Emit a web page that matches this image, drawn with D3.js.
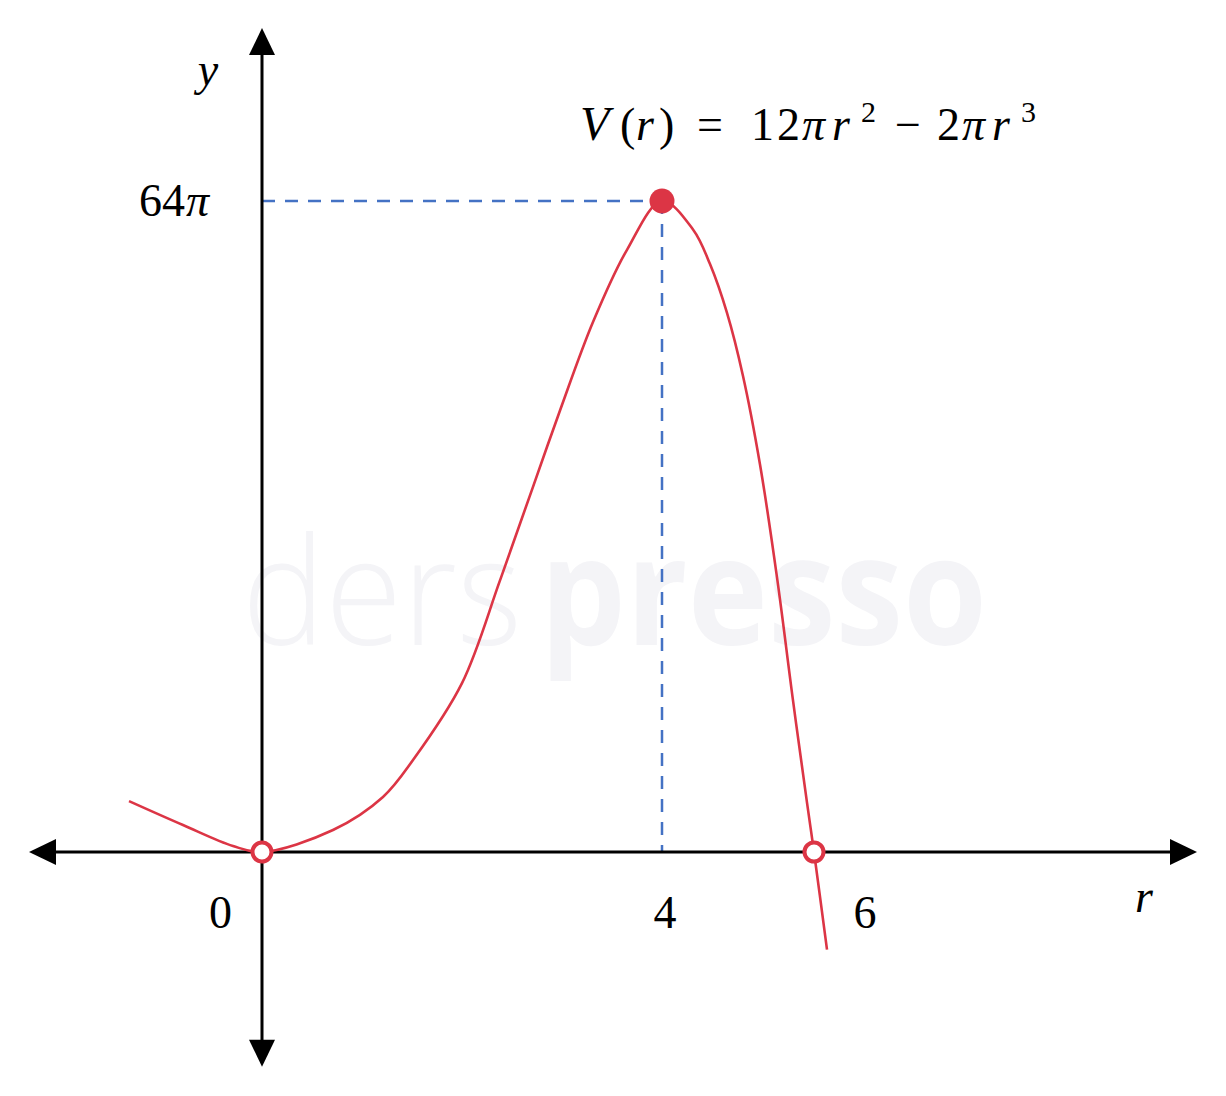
<!DOCTYPE html>
<html>
<head>
<meta charset="utf-8">
<script src="https://cdn.jsdelivr.net/npm/d3@7"></script>
<style>
  html, body { margin: 0; padding: 0; background: #fff; }
  svg { display: block; }
</style>
</head>
<body>
<svg id="chart" width="1226" height="1096"></svg>
<script>
// ---- data (r in units, V in units of π) ----
const curveR = [-1.33, -0.79, -0.29, 0, 0.71, 1.21, 1.51, 2.00, 2.38, 2.71, 2.98, 3.31, 3.65, 4, 4.31, 4.48, 4.65, 4.81, 4.98, 5.15, 5.31, 5.45, 5.52, 5.65];
const curveV = [5.0, 2.65, 0.59, 0, 2.16, 5.41, 9.04, 16.6, 26.7, 35.9, 43.4, 52.1, 59.2, 64, 61.2, 57.8, 53.0, 46.8, 38.1, 27.0, 14.9, 4.85, 0, -9.6];
const maxPoint = { r: 4, v: 64 };
const openPointsR = [0, 5.52];
const xTickValues = [0, 4, 6];
const xTickLabels = ["0", "4", "6"];
const yTickValues = [64];
const yTickLabels = ["64π"];
const rAxisExtent = [-2.33, 9.35];
const vAxisExtent = [-21.1, 81.0];

const svg = d3.select("#chart");

const x = d3.scaleLinear().domain([0, 4]).range([262, 662]);
const y = d3.scaleLinear().domain([0, 64]).range([852, 201]);

const RED = "#dc3545";
const BLUE = "#4472c4";
const FONT = "'Liberation Serif', 'DejaVu Serif', serif";

// ---- watermark ----
svg.append("text")
  .attr("x", 242).attr("y", 645)
  .attr("font-family", "'Open Sans', 'Noto Sans', sans-serif")
  .attr("font-size", 150).attr("font-weight", 300)
  .attr("fill", "#f4f4f7")
  .attr("textLength", 280).attr("lengthAdjust", "spacingAndGlyphs")
  .text("ders");
svg.append("text")
  .attr("x", 540).attr("y", 645)
  .attr("font-family", "'Open Sans', 'Noto Sans', sans-serif")
  .attr("font-size", 150).attr("font-weight", 700)
  .attr("fill", "#f4f4f7")
  .attr("textLength", 447).attr("lengthAdjust", "spacingAndGlyphs")
  .text("presso");

// ---- dashed guides ----
svg.append("line")
  .attr("x1", x(0)).attr("x2", x(maxPoint.r))
  .attr("y1", y(maxPoint.v)).attr("y2", y(maxPoint.v))
  .attr("stroke", BLUE).attr("stroke-width", 2.5).attr("stroke-dasharray", "13,10");
svg.append("line")
  .attr("x1", x(maxPoint.r)).attr("x2", x(maxPoint.r))
  .attr("y1", y(maxPoint.v)).attr("y2", y(0))
  .attr("stroke", BLUE).attr("stroke-width", 2.5).attr("stroke-dasharray", "13,10");

// ---- axes ----
const AL = 27, AW = 13;
const x0 = x(rAxisExtent[0]), x1 = x(rAxisExtent[1]);
const yTop = y(vAxisExtent[1]), yBot = y(vAxisExtent[0]);
const ox = x(0), oy = y(0);

svg.append("line").attr("x1", x0 + AL - 2).attr("x2", x1 - AL + 2)
  .attr("y1", oy).attr("y2", oy).attr("stroke", "#000").attr("stroke-width", 3);
svg.append("line").attr("x1", ox).attr("x2", ox)
  .attr("y1", yTop + AL - 2).attr("y2", yBot - AL + 2).attr("stroke", "#000").attr("stroke-width", 3);

const arrows = [
  `M${x0},${oy} L${x0 + AL},${oy - AW} L${x0 + AL},${oy + AW} Z`,
  `M${x1},${oy} L${x1 - AL},${oy - AW} L${x1 - AL},${oy + AW} Z`,
  `M${ox},${yTop} L${ox - AW},${yTop + AL} L${ox + AW},${yTop + AL} Z`,
  `M${ox},${yBot} L${ox - AW},${yBot - AL} L${ox + AW},${yBot - AL} Z`
];
svg.selectAll("path.arrow").data(arrows).enter().append("path")
  .attr("class", "arrow").attr("d", d => d).attr("fill", "#000");

// ---- curve ----
const pts = curveR.map((r, i) => [r, curveV[i]]);
const line = d3.line().x(d => x(d[0])).y(d => y(d[1])).curve(d3.curveCatmullRom.alpha(0.5));
svg.append("path").datum(pts).attr("d", line)
  .attr("fill", "none").attr("stroke", RED).attr("stroke-width", 2.6);

// ---- points ----
svg.append("circle").attr("cx", x(maxPoint.r)).attr("cy", y(maxPoint.v)).attr("r", 12.5).attr("fill", RED);
svg.selectAll("circle.open").data(openPointsR).enter().append("circle")
  .attr("class", "open").attr("cx", d => x(d)).attr("cy", y(0)).attr("r", 9.5)
  .attr("fill", "#fff").attr("stroke", RED).attr("stroke-width", 4);

// ---- labels ----
const FS = 46;
svg.selectAll("text.xt").data(xTickValues).enter().append("text")
  .attr("class", "xt")
  .attr("x", d => d === 0 ? x(d) - 30 : x(d) + 3)
  .attr("y", 928)
  .attr("text-anchor", d => d === 0 ? "end" : "middle")
  .attr("font-family", FONT).attr("font-size", FS)
  .text((d, i) => xTickLabels[i]);

// y tick label "64π"
const yt = svg.selectAll("text.yt").data(yTickValues).enter().append("text")
  .attr("class", "yt")
  .attr("y", d => y(d) + 15)
  .attr("font-family", FONT).attr("font-size", FS);
yt.append("tspan").attr("x", 139).text("6");
yt.append("tspan").attr("x", 162).text("4");
yt.append("tspan").attr("x", 186).attr("font-style", "italic").text("π");

svg.append("text").attr("x", 208).attr("y", 85).attr("text-anchor", "middle")
  .attr("font-family", FONT).attr("font-size", FS).attr("font-style", "italic").text("y");
svg.append("text").attr("x", 1144).attr("y", 912).attr("text-anchor", "middle")
  .attr("font-family", FONT).attr("font-size", FS).attr("font-style", "italic").text("r");

// formula  V(r) = 12πr² − 2πr³  (glyph-by-glyph placement, math style)
const fy = 140;
const f = svg.append("text").attr("y", fy)
  .attr("font-family", FONT).attr("font-size", FS);
const parts = [
  ["V", "italic", 580, fy, 48],
  ["(", "normal", 620, fy, FS],
  ["r", "italic", 636, fy, FS],
  [")", "normal", 659, fy, FS],
  ["=", "normal", 697, fy, FS],
  ["1", "normal", 751, fy, FS],
  ["2", "normal", 777, fy, FS],
  ["π", "italic", 802, fy, FS],
  ["r", "italic", 832, fy, FS],
  ["2", "normal", 861, fy - 18, 30],
  ["−", "normal", 895, fy, FS],
  ["2", "normal", 937, fy, FS],
  ["π", "italic", 962, fy, FS],
  ["r", "italic", 992, fy, FS],
  ["3", "normal", 1021, fy - 18, 30]
];
parts.forEach(p => {
  f.append("tspan").attr("font-style", p[1]).attr("x", p[2]).attr("y", p[3]).attr("font-size", p[4]).text(p[0]);
});
</script>
</body>
</html>
